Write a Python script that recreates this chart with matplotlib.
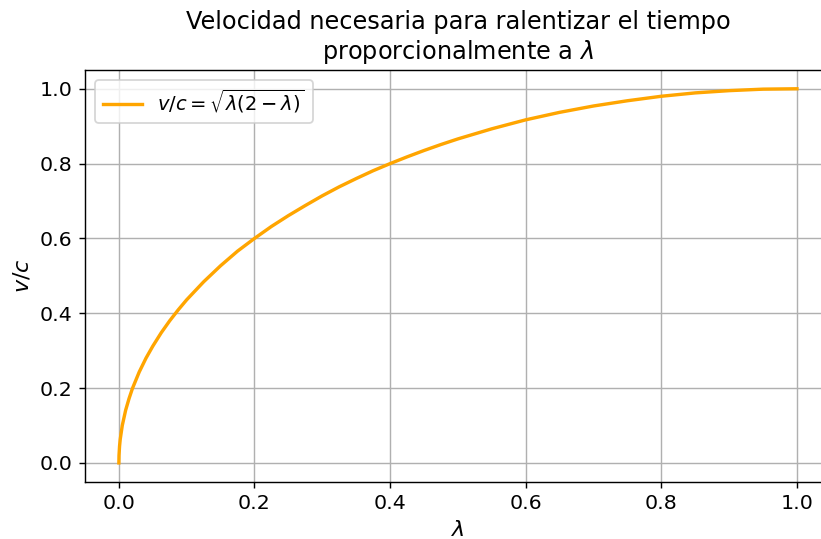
import matplotlib.pyplot as plt

# valores
lam = [0.0, 0.0002, 0.001, 0.002, 0.005, 0.01, 0.015, 0.02, 0.03, 0.04, 0.05,
       0.0625, 0.075, 0.0875, 0.1, 0.125, 0.15, 0.175, 0.2, 0.225, 0.25, 0.275,
       0.3, 0.325, 0.35, 0.375, 0.4, 0.425, 0.45, 0.475, 0.5, 0.55, 0.6, 0.65,
       0.7, 0.75, 0.8, 0.85, 0.9, 0.95, 1.0]
vc = [0.0, 0.020, 0.0447, 0.0632, 0.0999, 0.141, 0.172, 0.199, 0.243, 0.280,
      0.312, 0.348, 0.380, 0.409, 0.436, 0.484, 0.527, 0.566, 0.600, 0.632,
      0.661, 0.688, 0.714, 0.738, 0.760, 0.781, 0.800, 0.818, 0.835, 0.851,
      0.866, 0.893, 0.917, 0.937, 0.954, 0.968, 0.980, 0.989, 0.995, 0.999, 1.0]

fig = plt.figure(figsize=(8.21 / 1.28, 5.39 / 1.28), dpi=128)
ax = fig.add_subplot(111)
fig.subplots_adjust(left=0.1035, right=1.012, top=0.870, bottom=0.1065)

ax.plot(lam, vc, color="orange", linewidth=1.9, label=r"$v/c = \sqrt{\lambda(2-\lambda)}$")
ax.set_title("Velocidad necesaria para ralentizar el tiempo\nproporcionalmente a $\\lambda$", fontsize=13.5)
ax.set_xlabel(r"$\lambda$", fontsize=12.5)
ax.set_ylabel(r"$v/c$", fontsize=12.5)
ax.tick_params(labelsize=11.5)
ax.grid(True)
ax.legend(loc="upper left", fontsize=11)

fig.savefig("out.png", dpi=128)
